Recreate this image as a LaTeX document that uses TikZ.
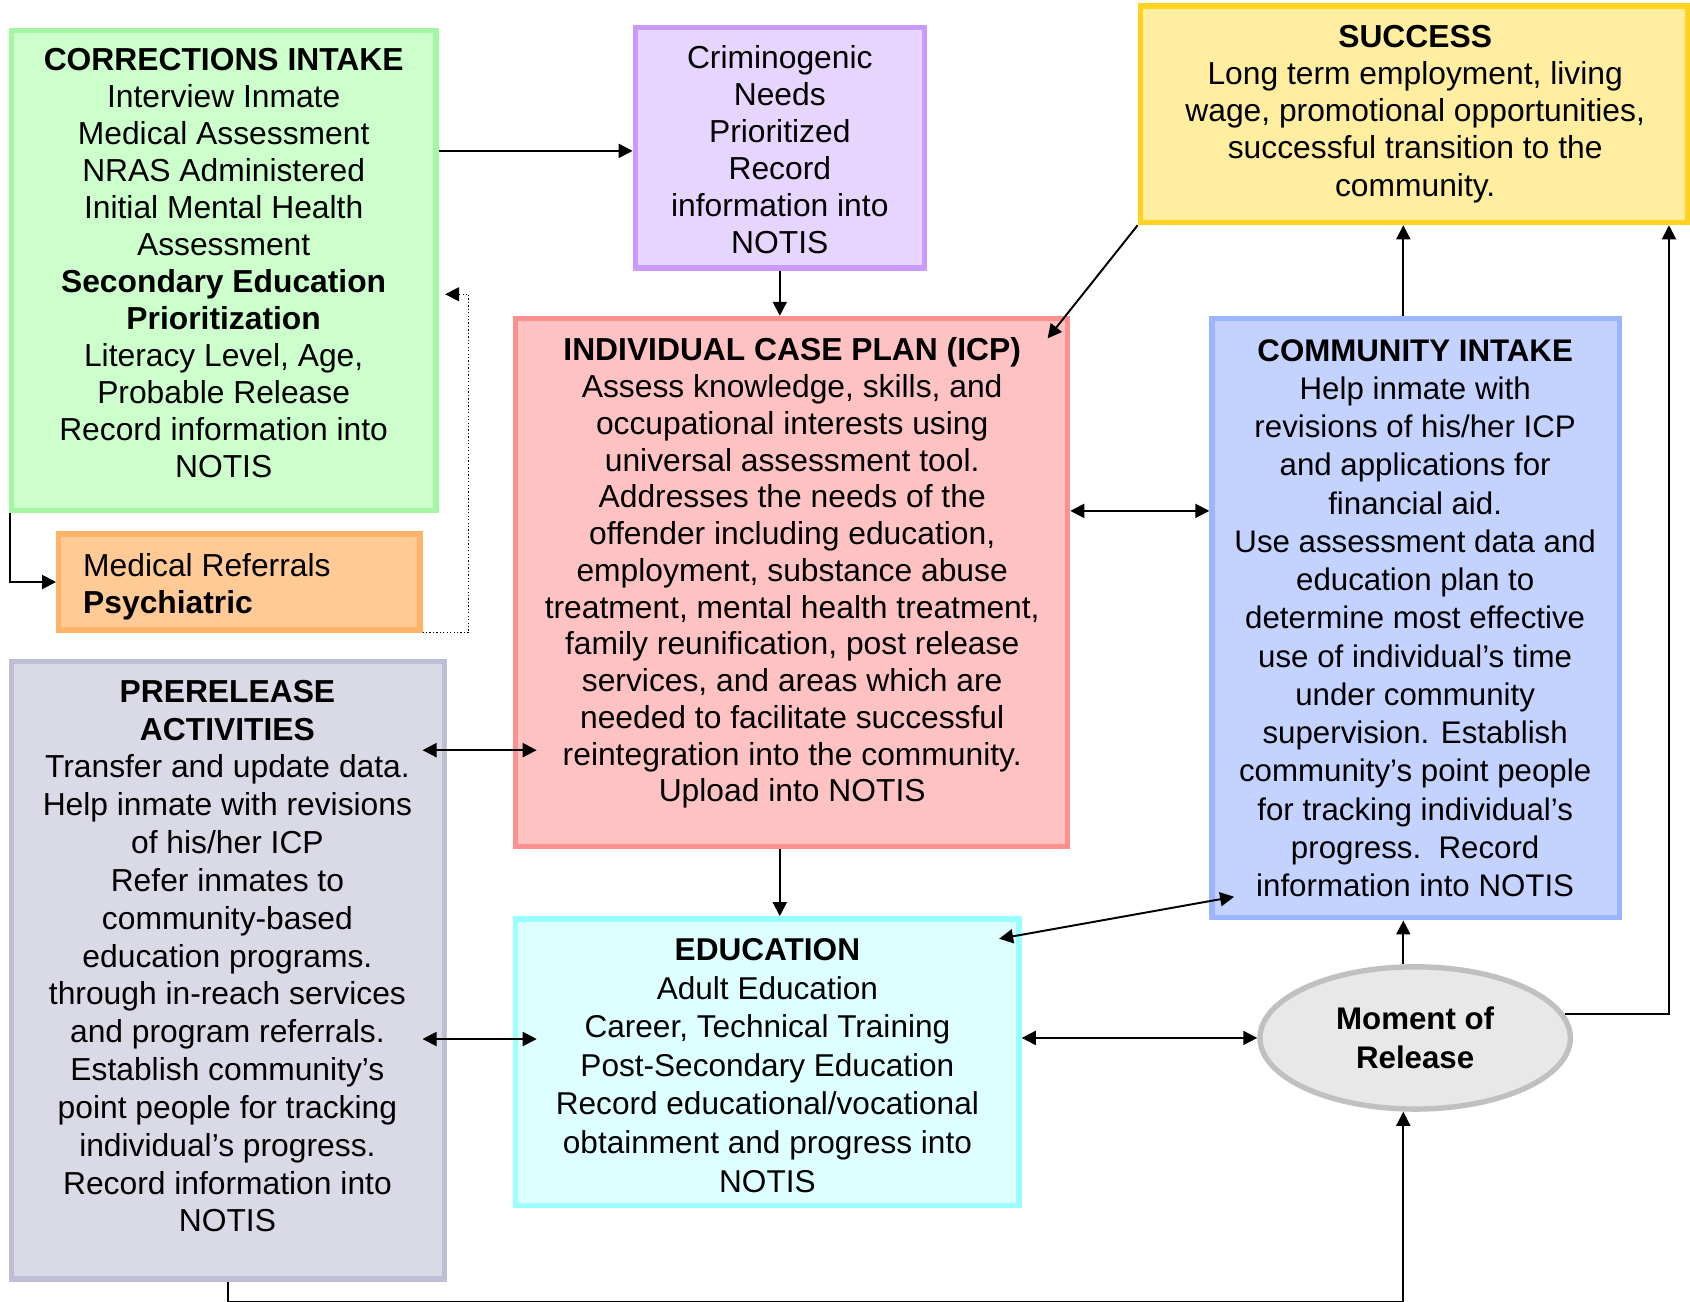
\documentclass[tikz,border=0pt]{standalone}
\usepackage{fontspec}
\setmainfont{Liberation Sans}
\usetikzlibrary{arrows.meta,shapes.geometric,calc}
\definecolor{gfill}{HTML}{CCFFCC}\definecolor{gline}{HTML}{A3F7A3}
\definecolor{pfill}{HTML}{E6D6FF}\definecolor{pline}{HTML}{CC99FF}
\definecolor{yfill}{HTML}{FFEDA0}\definecolor{yline}{HTML}{FFD320}
\definecolor{ofill}{HTML}{FFCA96}\definecolor{oline}{HTML}{FFB366}
\definecolor{rfill}{HTML}{FFC2C2}\definecolor{rline}{HTML}{FF9090}
\definecolor{bfill}{HTML}{C4D2FF}\definecolor{bline}{HTML}{9BB5FF}
\definecolor{vfill}{HTML}{DADAE6}\definecolor{vline}{HTML}{BEBED6}
\definecolor{cfill}{HTML}{DDFFFF}\definecolor{cline}{HTML}{99FFFF}
\definecolor{efill}{HTML}{E8E8E8}\definecolor{eline}{HTML}{C0C0C0}
\begin{document}
\begin{tikzpicture}[x=1pt,y=-1pt,
  box/.style={draw, rectangle, line width=5pt, inner sep=0pt},
  txt/.style={align=center, anchor=base, inner sep=0pt},
  arr/.style={-{Triangle[length=13pt,width=13pt]}, line width=1.8pt},
  darr/.style={{Triangle[length=13pt,width=13pt]}-{Triangle[length=13pt,width=13pt]}, line width=1.8pt}]
\useasboundingbox (0,0) rectangle (1568,1208);
\coordinate (colx) at (1302,0);

% boxes
\node (ci) [box, draw=gline, fill=gfill, minimum width=394pt, minimum height=445pt] at (207.5,251) {};
\node (crim) [box, draw=pline, fill=pfill, minimum width=268pt, minimum height=223pt] at (723.5,137) {};
\node (succ) [box, draw=yline, fill=yfill, minimum width=508pt, minimum height=201pt] at (1312,106) {};
\node (med) [box, draw=oline, fill=ofill, minimum width=335pt, minimum height=89pt] at (222,540) {};
\node (icp) [box, draw=rline, fill=rfill, minimum width=512pt, minimum height=490pt] at (734.5,540.5) {};
\node (comm) [box, draw=bline, fill=bfill, minimum width=378pt, minimum height=556pt] at (1313.5,573.5) {};
\node (pre) [box, draw=vline, fill=vfill, minimum width=402pt, minimum height=573pt] at (211.5,900) {};
\node (edu) [box, draw=cline, fill=cfill, minimum width=467pt, minimum height=266pt] at (712,985.5) {};
\node (mor) [draw=eline, fill=efill, ellipse, line width=5pt, minimum width=288pt, minimum height=132pt, inner sep=0pt] at (1313,963) {};

% texts (anchored at the baseline of the last line)
\node (ci-t) [txt, font=\fontsize{29.5}{34.3}\selectfont] at (207.5,443) {\textbf{CORRECTIONS INTAKE}\\Interview Inmate\\Medical Assessment\\NRAS Administered\\Initial Mental Health\\Assessment\\\textbf{Secondary Education}\\\textbf{Prioritization}\\Literacy Level, Age,\\Probable Release\\Record information into\\NOTIS};
\node (crim-t) [txt, font=\fontsize{29.5}{34.2}\selectfont] at (723.5,235) {Criminogenic\\Needs\\Prioritized\\Record\\information into\\NOTIS};
\node (succ-t) [txt, font=\fontsize{29.5}{34.5}\selectfont] at (1313,182) {\textbf{SUCCESS}\\Long term employment, living\\wage, promotional opportunities,\\successful transition to the\\community.};
\node (med-t) [inner sep=0pt, align=left, anchor=base west, font=\fontsize{29.5}{34}\selectfont] at (77,569) {Medical Referrals\\\textbf{Psychiatric}};
\node (icp-t) [txt, font=\fontsize{29.5}{34.1}\selectfont] at (735,744) {\textbf{INDIVIDUAL CASE PLAN (ICP)}\\Assess knowledge, skills, and\\occupational interests using\\universal assessment tool.\\Addresses the needs of the\\offender including education,\\employment, substance abuse\\treatment, mental health treatment,\\family reunification, post release\\services, and areas which are\\needed to facilitate successful\\reintegration into the community.\\Upload into NOTIS};
\node (comm-t) [txt, font=\fontsize{29}{35.5}\selectfont] at (1313,832) {\textbf{COMMUNITY INTAKE}\\Help inmate with\\revisions of his/her ICP\\and applications for\\financial aid.\\Use assessment data and\\education plan to\\determine most effective\\use of individual’s time\\under community\\supervision. Establish\\community’s point people\\for tracking individual’s\\progress.\ \ Record\\information into NOTIS};
\node (pre-t) [txt, font=\fontsize{29.5}{35.1}\selectfont] at (211,1143) {\textbf{PRERELEASE}\\\textbf{ACTIVITIES}\\Transfer and update data.\\Help inmate with revisions\\of his/her ICP\\Refer inmates to\\community-based\\education programs.\\through in-reach services\\and program referrals.\\Establish community’s\\point people for tracking\\individual’s progress.\\Record information into\\NOTIS};
\node (edu-t) [txt, font=\fontsize{29.3}{35.8}\selectfont] at (712,1106) {\textbf{EDUCATION}\\Adult Education\\Career, Technical Training\\Post-Secondary Education\\Record educational/vocational\\obtainment and progress into\\NOTIS};
\node (mor-t) [txt, font=\fontsize{29}{36}\selectfont\bfseries] at (1313,991) {Moment of\\Release};

% connectors
\draw[arr] ([yshift=-3pt]crim.west -| ci.east) -- ([yshift=-3pt]crim.west);
\draw[arr] (crim.south) -- (crim.south |- icp.north);
\draw[arr] ([xshift=1pt]ci.south west) |- (med.west);
\draw[dotted, line width=1.2pt, -{Triangle[length=13pt,width=13pt]}] (med.south east) -- ++(43,0) |- ([xshift=6pt,yshift=-22pt]ci.east);
\draw[arr] (succ.south west) -- ([xshift=-21pt,yshift=-21pt]icp.north east);
\draw[arr] (comm.north -| colx) -- (succ.south -| colx);
\draw[darr] ([yshift=66.5pt]icp.east) coordinate (g1) -- (g1 -| comm.west);
\draw[darr] ([xshift=-23pt,yshift=204pt]pre.east) -- ([xshift=22pt,yshift=-155.5pt]icp.west);
\draw[arr] (icp.south -| crim.south) -- (edu.north -| crim.south);
\draw[darr] ([xshift=-21pt,yshift=-21pt]edu.north east) -- ([xshift=23pt,yshift=22pt]comm.south west);
\draw[darr] ([xshift=-23pt,yshift=-64pt]pre.east) -- ([xshift=22pt,yshift=21.5pt]edu.west);
\draw[darr] (mor.west -| edu.east) -- (mor.west);
\draw[arr] (mor.north -| colx) -- (comm.south -| colx);
\draw[arr] (mor.9) -| ([xshift=-20pt]succ.south east);
\draw[arr] (pre.south) -- ++(0,19) -| (mor.south -| colx);
\end{tikzpicture}
\end{document}
